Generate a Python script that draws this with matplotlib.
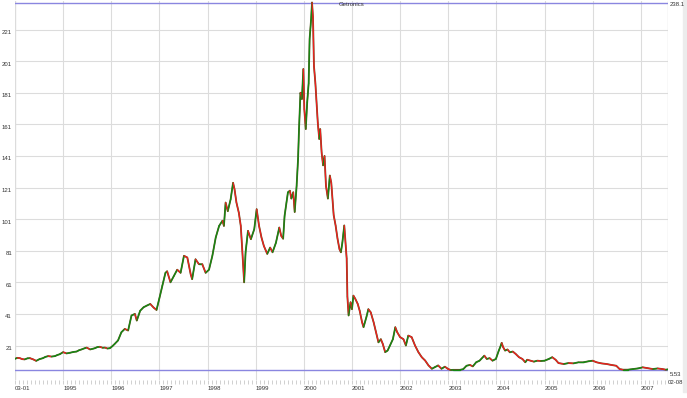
import numpy as np
import matplotlib
matplotlib.use("Agg")
import matplotlib.pyplot as plt
from matplotlib.collections import LineCollection
from matplotlib.patches import Rectangle

W, H = 687, 398

title = "Getronics"
price_high = 238.1
price_low = 5.53
first_label = "03-01"
last_label = "02-08"
year_ticks = list(range(1995, 2008))
y_ticks = [21, 41, 61, 81, 101, 121, 141, 161, 181, 201, 221]

# decimal-year / close readings taken from the chart
t_9496 = [1994.00, 1994.05, 1994.10, 1994.15, 1994.20, 1994.26, 1994.31, 1994.38, 1994.44,
          1994.51, 1994.58, 1994.63, 1994.69, 1994.76, 1994.83, 1994.88, 1994.93, 1995.00,
          1995.07, 1995.14, 1995.21, 1995.28, 1995.33, 1995.38, 1995.44, 1995.49, 1995.56,
          1995.62, 1995.66, 1995.71, 1995.76, 1995.82, 1995.87, 1995.92, 1995.97, 1996.02,
          1996.07, 1996.14, 1996.21, 1996.28, 1996.35, 1996.42, 1996.49, 1996.53, 1996.60,
          1996.67, 1996.74, 1996.81, 1996.88, 1996.94]
p_9496 = [12.6, 13.2, 13.0, 12.4, 12.2, 12.9, 13.0, 12.2, 11.3,
          12.4, 13.0, 13.8, 14.3, 14.0, 14.3, 15.0, 15.5, 16.8,
          16.0, 16.4, 16.9, 17.2, 18.0, 18.5, 19.2, 19.7, 18.5,
          19.0, 19.3, 20.0, 20.2, 19.6, 19.7, 19.1, 19.3, 20.5,
          22.0, 24.2, 29.4, 31.5, 30.5, 40.0, 41.0, 36.8, 43.0,
          45.2, 46.3, 47.3, 45.0, 43.5]

t_9799 = [1997.00, 1997.06, 1997.125, 1997.16, 1997.23, 1997.30, 1997.37, 1997.44, 1997.51,
          1997.58, 1997.65, 1997.68, 1997.75, 1997.82, 1997.89, 1997.96, 1998.03, 1998.10,
          1998.17, 1998.24, 1998.31, 1998.34, 1998.375, 1998.42, 1998.48, 1998.53, 1998.56,
          1998.60, 1998.65, 1998.69, 1998.72, 1998.76, 1998.79, 1998.84, 1998.90, 1998.97,
          1999.02, 1999.07, 1999.12, 1999.17, 1999.24, 1999.30, 1999.35, 1999.42, 1999.49,
          1999.53]
p_9799 = [51.0, 58.8, 67.0, 68.0, 61.0, 65.0, 69.0, 67.0, 77.8,
          76.7, 66.0, 63.0, 75.6, 72.5, 72.5, 67.0, 69.0, 77.8,
          89.4, 96.7, 100.0, 96.7, 111.5, 106.0, 113.6, 124.0, 120.0,
          111.5, 105.0, 96.7, 82.0, 61.0, 80.0, 93.6, 88.3, 94.6,
          107.3, 96.7, 89.4, 84.0, 79.0, 83.0, 80.0, 86.0, 95.7,
          90.4]

t_9900 = [1999.57, 1999.60, 1999.64, 1999.67, 1999.71, 1999.74, 1999.78, 1999.81, 1999.85,
          1999.88, 1999.90, 1999.93, 1999.96, 1999.99, 2000.01, 2000.04, 2000.07, 2000.10,
          2000.12, 2000.15, 2000.17, 2000.19, 2000.21, 2000.24, 2000.26, 2000.29, 2000.32,
          2000.34, 2000.37, 2000.40, 2000.43, 2000.46, 2000.50, 2000.54, 2000.57, 2000.59,
          2000.62, 2000.66, 2000.70, 2000.74, 2000.77, 2000.80, 2000.84, 2000.87, 2000.89,
          2000.905, 2000.93, 2000.97]
p_9900 = [88.6, 103.0, 111.8, 118.0, 119.0, 114.0, 118.0, 105.5, 122.0,
          139.0, 158.0, 181.0, 177.0, 196.0, 170.6, 158.0, 175.0, 187.0,
          215.0, 227.0, 238.1, 229.0, 198.0, 187.0, 177.0, 162.0, 151.7,
          158.0, 143.0, 135.0, 141.0, 122.0, 114.0, 128.6, 124.0, 116.0,
          103.5, 97.0, 88.6, 82.0, 80.0, 86.0, 97.0, 84.0, 76.0,
          52.0, 40.0, 48.4]

t_0102 = [2001.00, 2001.03, 2001.07, 2001.12, 2001.16, 2001.21, 2001.24, 2001.30, 2001.34,
          2001.39, 2001.45, 2001.50, 2001.55, 2001.60, 2001.64, 2001.69, 2001.74, 2001.79,
          2001.85, 2001.90, 2001.94, 2002.00, 2002.07, 2002.12, 2002.17, 2002.24, 2002.31,
          2002.38, 2002.45, 2002.52, 2002.59, 2002.66, 2002.72, 2002.79, 2002.86, 2002.93]
p_0102 = [44.0, 52.6, 50.5, 47.3, 43.0, 35.7, 32.6, 39.0, 44.0,
          42.0, 35.7, 29.4, 23.0, 25.0, 22.0, 16.8, 17.8, 21.0,
          25.0, 32.6, 29.4, 26.3, 25.0, 21.0, 27.3, 26.3, 21.0,
          16.8, 13.6, 11.5, 8.4, 6.3, 7.3, 8.4, 6.3, 7.6]

t_0307 = [2003.00, 2003.05, 2003.10, 2003.24, 2003.31, 2003.38, 2003.45, 2003.51, 2003.58,
          2003.65, 2003.75, 2003.80, 2003.86, 2003.92, 2003.99, 2004.05, 2004.08, 2004.11,
          2004.14, 2004.18, 2004.23, 2004.28, 2004.34, 2004.40, 2004.47, 2004.54, 2004.60,
          2004.64, 2004.71, 2004.78, 2004.85, 2004.92, 2005.00, 2005.09, 2005.16, 2005.23,
          2005.29, 2005.40, 2005.50, 2005.60, 2005.71, 2005.81, 2005.91, 2006.00, 2006.08,
          2006.18, 2006.29, 2006.39, 2006.49, 2006.56, 2006.63, 2006.73, 2006.84, 2006.94,
          2007.04, 2007.14, 2007.25, 2007.35, 2007.45, 2007.52, 2007.56]
p_0307 = [6.1, 5.53, 5.6, 5.6, 6.0, 8.2, 8.7, 7.8, 10.4,
          11.4, 14.6, 12.5, 13.0, 11.4, 12.5, 17.8, 20.0, 22.7,
          20.0, 17.8, 18.5, 16.7, 17.2, 15.7, 13.6, 12.5, 10.4,
          12.0, 11.4, 10.8, 11.4, 11.2, 11.4, 12.5, 13.6, 12.0,
          9.9, 9.3, 9.9, 9.7, 10.4, 10.4, 11.0, 11.4, 10.4,
          9.7, 9.3, 8.7, 8.2, 6.1, 5.7, 5.7, 6.1, 6.5,
          7.2, 6.7, 6.1, 6.5, 6.1, 5.7, 5.9]

t = np.array(t_9496 + t_9799 + t_9900 + t_0102 + t_0307)
p = np.array(p_9496 + p_9799 + p_9900 + p_0102 + p_0307)

fig = plt.figure(figsize=(W / 100, H / 100), dpi=100)
fig.patch.set_facecolor("white")
ax_l, ax_r, ax_t, ax_b = 15, 668, 1, 380
ax = fig.add_axes([ax_l / W, (H - ax_b) / H, (ax_r - ax_l) / W, (ax_b - ax_t) / H])
ax.set_facecolor("white")

x0, x1 = 1994.0, 2007.565
ax.set_xlim(x0, x1)
ax.set_ylim(-0.82, 239.05)

grid_c = "#dcdcdc"
for yv in y_ticks:
    ax.axhline(yv, color=grid_c, lw=0.8, zorder=1)
for yr in year_ticks:
    ax.axvline(yr, color=grid_c, lw=0.8, zorder=1)
ax.axvline(x0, color=grid_c, lw=1.0, zorder=1)
ax.axvline(x1, color=grid_c, lw=1.0, zorder=1)

ax.axhline(price_high, color="#8a86e0", lw=1.0, zorder=2)
ax.axhline(price_low, color="#8a86e0", lw=1.0, zorder=2)

pts = np.column_stack([t, p])
segs = np.stack([pts[:-1], pts[1:]], axis=1)
cols = ["#138a13" if b >= a else "#ee2020" for a, b in zip(p[:-1], p[1:])]
ax.plot(t, p, color="#5e5424", lw=1.3, zorder=3, solid_joinstyle="round")
lc = LineCollection(segs, colors=cols, linewidths=0.9, zorder=4, capstyle="round")
ax.add_collection(lc)

for s in ax.spines.values():
    s.set_visible(False)

fnt = ["Liberation Sans Narrow", "Liberation Sans", "DejaVu Sans"]
fs = 4.3
ax.set_yticks([])
for yv in y_ticks:
    ax.text(-3 / (ax_r - ax_l), yv - 1.9, str(yv), transform=ax.get_yaxis_transform(),
            ha="right", va="center", fontsize=fs, color="#333333", family=fnt)

ax.set_xticks([x0] + year_ticks)
ax.set_xticklabels([first_label] + [str(y) for y in year_ticks], fontsize=fs,
                   color="#333333", ha="left", family=fnt)
ax.set_xticks(np.arange(1994.0, x1, 1 / 12), minor=True)
ax.tick_params(axis="x", which="both", length=3, width=0.5, color="#bdbdbd",
               direction="out", pad=1.5)

def fx(px):
    return px / W

def fy(py):
    return 1 - py / H

fig.text(fx(352), fy(5), title, ha="center", va="center", fontsize=fs,
         color="#333333", family=fnt)
fig.text(fx(670), fy(4), f"{price_high}", ha="left", va="center", fontsize=fs,
         color="#333333", family=fnt)
fig.text(fx(670), fy(374), f"{price_low}", ha="left", va="center", fontsize=fs,
         color="#333333", family=fnt)
fig.text(fx(668), fy(382), last_label, ha="left", va="center", fontsize=fs,
         color="#333333", family=fnt)
fig.patches.append(Rectangle((fx(683), fy(392)), fx(4), 392 / H, transform=fig.transFigure,
                             color="#ececec", zorder=0))

fig.savefig("out.png", dpi=100)
